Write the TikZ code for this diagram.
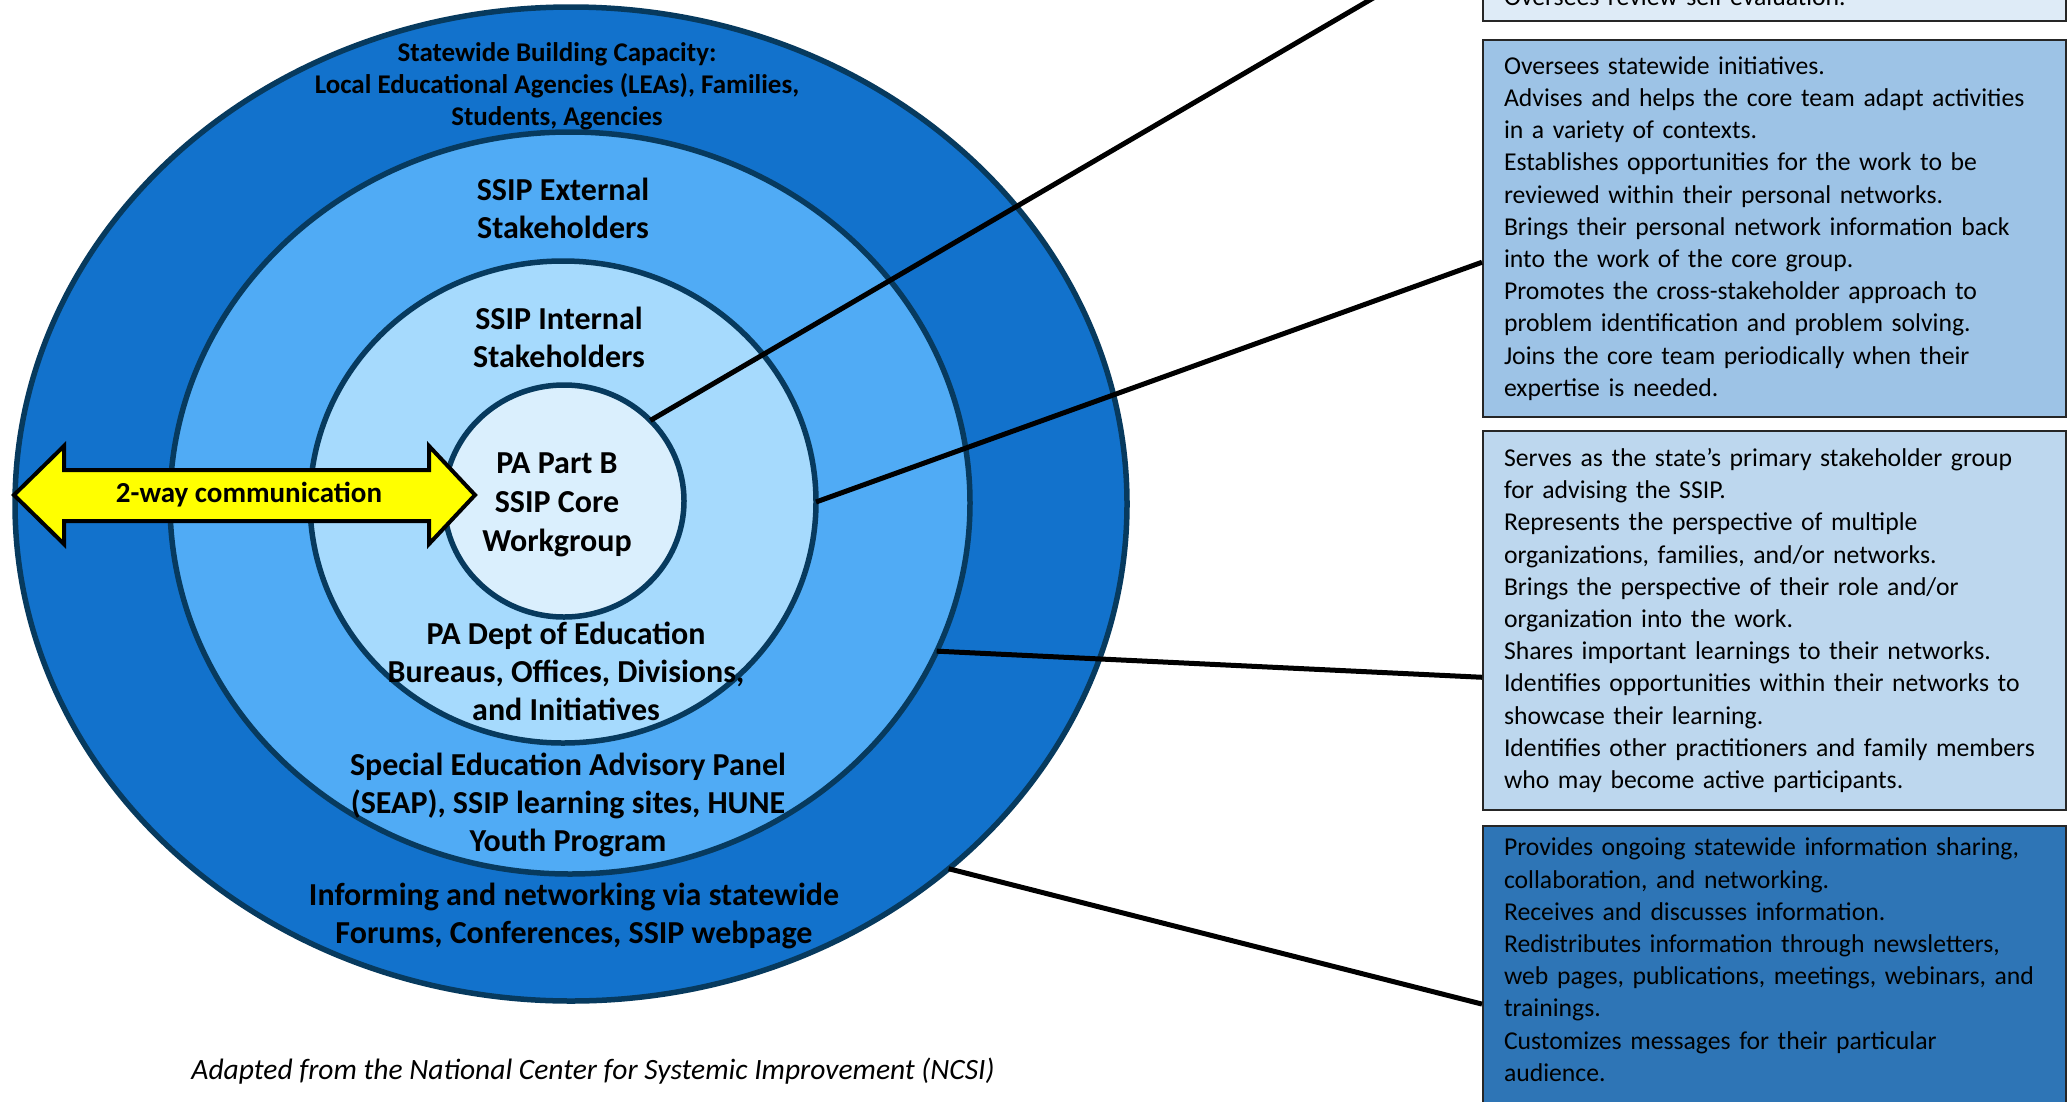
\documentclass[tikz,border=0pt]{standalone}
\usepackage{fontspec}
\setmainfont{Carlito}
\usetikzlibrary{shapes.geometric,calc}
\definecolor{rim}{HTML}{073A5E}
\definecolor{ringout}{HTML}{1272CC}
\definecolor{ringext}{HTML}{50ABF5}
\definecolor{ringint}{HTML}{A6DAFD}
\definecolor{ringcore}{HTML}{DAEFFD}
\definecolor{boxpale}{HTML}{DEEBF7}
\definecolor{boxmid}{HTML}{9DC3E6}
\definecolor{boxlight}{HTML}{BDD7EE}
\definecolor{boxdark}{HTML}{2E75B6}
\definecolor{arrowyellow}{HTML}{FFFF00}
\begin{document}
\begin{tikzpicture}[x=1pt,y=-1pt,
        ring/.style={ellipse,draw=rim,line width=5.5pt,inner sep=0pt,outer sep=0pt},
        ringtext/.style={align=center,font=\fontsize{32}{38}\selectfont\bfseries},
        infobox/.style={draw=black!85,line width=2pt,anchor=north west,inner xsep=21pt,inner ysep=12pt,
            align=left,text width=541pt,font=\fontsize{25.7}{32.2}\selectfont},
        link/.style={line width=5pt}]
        \useasboundingbox (0,0) rectangle (2067,1101);
        \clip (0,0) rectangle (2067,1101);
        % rings
        \node[ring,fill=ringout,minimum width=1112pt,minimum height=994pt] (capacity) at (571,504) {};
        \node[ring,fill=ringext,minimum width=800pt,minimum height=742pt] (external) at (570,503) {};
        \node[ring,fill=ringint,minimum width=506pt,minimum height=482pt] (internal) at (563,502) {};
        \node[ring,fill=ringcore,minimum width=240pt,minimum height=232pt] (core) at (564,501) {};
        % 2-way arrow
        \draw[line width=4pt,line join=miter,fill=arrowyellow] (14,495) -- (64,446) -- (64,470) -- (429,470)
            -- (429,446) -- (475,495) -- (429,544) -- (429,521) -- (64,521) -- (64,544) -- cycle;
        \node[font=\fontsize{29}{34}\selectfont\bfseries] (comm) at (249,495) {2-way communication};
        % ring labels
        \node[align=center,font=\fontsize{27}{32}\selectfont\bfseries] (capacitylbl) at (557,86)
            {Statewide Building Capacity:\\Local Educational Agencies (LEAs), Families,\\Students, Agencies};
        \node[ringtext] (externallbl) at (563,208) {SSIP External\\Stakeholders};
        \node[ringtext] (internallbl) at (559,337) {SSIP Internal\\Stakeholders};
        \node[ringtext,font=\fontsize{32}{39}\selectfont\bfseries] (corelbl) at (557,505) {PA Part B\\SSIP Core\\Workgroup};
        \node[ringtext] (deptlbl) at (566,671) {PA Dept of Education\\Bureaus, Offices, Divisions,\\and Initiatives};
        \node[ringtext] (seaplbl) at (568,805) {Special Education Advisory Panel\\(SEAP), SSIP learning sites, HUNE\\Youth Program};
        \node[ringtext] (forumlbl) at (574,916) {Informing and networking via statewide\\Forums, Conferences, SSIP webpage};
        % caption
        \node[font=\fontsize{29.5}{34}\selectfont\itshape] (caption) at (593,1071)
            {Adapted from the National Center for Systemic Improvement (NCSI)};
        % boxes
        \node[infobox,fill=boxpale,anchor=south west,inner ysep=15pt] (corebox) at (1482,22)
            {\begin{minipage}[b][130pt][b]{541pt}\raggedright Oversees review self-evaluation.\end{minipage}};
        \node[infobox,fill=boxmid,minimum height=377pt] (internalbox) at (1482,39)
            {Oversees statewide initiatives.\\
            Advises and helps the core team adapt activities\\
            in a variety of contexts.\\
            Establishes opportunities for the work to be\\
            reviewed within their personal networks.\\
            Brings their personal network information back\\
            into the work of the core group.\\
            Promotes the cross-stakeholder approach to\\
            problem identification and problem solving.\\
            Joins the core team periodically when their\\
            expertise is needed.};
        \node[infobox,fill=boxlight,minimum height=379pt] (externalbox) at (1482,430)
            {Serves as the state’s primary stakeholder group\\
            for advising the SSIP.\\
            Represents the perspective of multiple\\
            organizations, families, and/or networks.\\
            Brings the perspective of their role and/or\\
            organization into the work.\\
            Shares important learnings to their networks.\\
            Identifies opportunities within their networks to\\
            showcase their learning.\\
            Identifies other practitioners and family members\\
            who may become active participants.};
        \node[infobox,fill=boxdark] (capacitybox) at (1482,825)
            {\begin{minipage}[t][276pt][t]{541pt}\raggedright
            Provides ongoing statewide information sharing,\\
            collaboration, and networking.\\
            Receives and discusses information.\\
            Redistributes information through newsletters,\\
            web pages, publications, meetings, webinars, and\\
            trainings.\\
            Customizes messages for their particular\\
            audience.\end{minipage}};
        % links
        \draw[link] (core.43) -- ($(corebox.south west)!0.54!(corebox.north west)$);
        \draw[link] (internal.east) -- ($(internalbox.north west)!0.589!(internalbox.south west)$);
        \draw[link] (external.-22) -- ($(externalbox.north west)!0.649!(externalbox.south west)$);
        \draw[link] (capacity.-44.5) -- ($(capacitybox.north west)!0.593!(capacitybox.south west)$);
    \end{tikzpicture}
\end{document}
